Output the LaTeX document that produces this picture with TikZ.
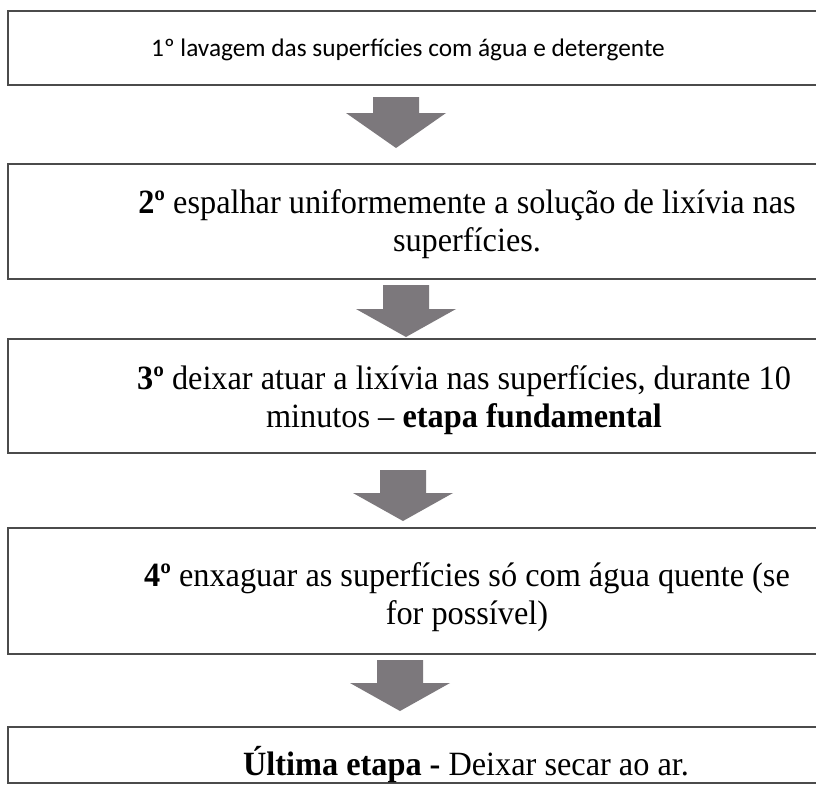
\documentclass[tikz,border=0pt]{standalone}
\usepackage{fontspec}
\setmainfont{Liberation Serif}
\newfontfamily\calib{Carlito}
\newfontfamily\tnr[FakeStretch=0.95]{Liberation Serif}
\definecolor{arrowgray}{RGB}{124,120,124}
\definecolor{boxline}{RGB}{75,75,75}
\newcommand\blkarrow[5]{% name, cx, top, headtop, tip
  \fill[arrowgray] (#2-23,#3) -- (#2+23,#3) -- (#2+23,#4) -- (#2+50,#4)
    -- (#2,#5) coordinate (#1) -- (#2-50,#4) -- (#2-23,#4) -- cycle;}
\newcommand\openbox[1]{\draw[boxedge] (#1.north east) -- (#1.north west) -- (#1.south west) -- (#1.south east);}
\tikzset{
  stepbox/.style={anchor=north west, minimum width=900pt, inner sep=0pt, outer sep=0pt},
  boxedge/.style={draw=boxline, line width=1.3pt, line join=miter},
  serift/.style={align=center, font=\tnr\fontsize{34}{38}\selectfont, inner sep=0pt},
  sanst/.style={font=\calib\fontsize{25.3}{30}\selectfont, inner sep=0pt}
}
\begin{document}
\begin{tikzpicture}[x=1pt,y=-1pt]
\useasboundingbox (0,0) rectangle (816,784);
\clip (0,0) rectangle (816,784);
\fill[white] (0,0) rectangle (816,784);
% boxes
\node[stepbox, minimum height=74pt] (b1) at (8,11) {};
\node[stepbox, minimum height=115pt] (b2) at (8,164) {};
\node[stepbox, minimum height=114pt] (b3) at (8,339) {};
\node[stepbox, minimum height=126pt] (b4) at (8,528) {};
\node[stepbox, minimum height=56pt] (b5) at (8,727) {};
\openbox{b1}\openbox{b2}\openbox{b3}\openbox{b4}\openbox{b5}
% texts
\node[sanst] (t1) at (408,50) {1º lavagem das superfícies com água e detergente};
\node[serift] (t2) at (467,224) {\textbf{2º} espalhar uniformemente a solução de lixívia nas\\ superfícies.};
\node[serift] (t3) at (464,400) {\textbf{3º} deixar atuar a lixívia nas superfícies, durante 10\\ minutos – \textbf{etapa fundamental}};
\node[serift] (t4) at (467,597) {\textbf{4º} enxaguar as superfícies só com água quente (se\\ for possível)};
\node[serift] (t5) at (466,765) {\textbf{Última etapa -} Deixar secar ao ar.};
% block arrows
\blkarrow{a1}{396}{97}{113}{148}
\blkarrow{a2}{406}{285}{309}{337}
\blkarrow{a3}{403}{470}{493}{521}
\blkarrow{a4}{400}{660}{683}{711}
\end{tikzpicture}
\end{document}
